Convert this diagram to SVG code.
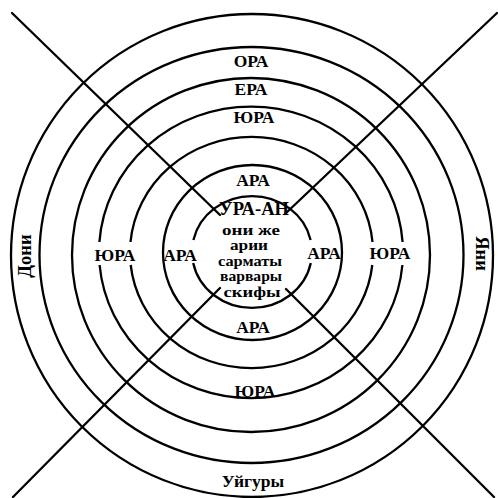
<svg xmlns="http://www.w3.org/2000/svg" width="498" height="498" viewBox="0 0 498 498">
<style>
  .ring { fill: none; stroke: #000; stroke-width: 2.3; }
  .ray { stroke: #000; stroke-width: 2.3; stroke-linecap: round; }
  .lbl { font-family: "Liberation Serif", "Times New Roman", serif; font-weight: bold; fill: #000; text-anchor: middle; }
  .big { font-size: 17.5px; }
  .mid { font-size: 18.5px; }
  .small { font-size: 14.5px; }
</style>
<rect width="498" height="498" fill="#fff"/>
<g id="rings">
  <ellipse id="ring1" class="ring" cx="252" cy="255.5" rx="241" ry="241.5"/>
  <ellipse id="ring2" class="ring" cx="251.5" cy="255" rx="212" ry="208"/>
  <ellipse id="ring3" class="ring" cx="251" cy="255" rx="179" ry="177"/>
  <path id="ring4" class="ring" d="M402.6 242 A152 146 0 0 0 99.4 242 M99.6 265 A152 146 0 0 0 402.4 265"/>
  <path id="ring5" class="ring" d="M372.5 242 A121.5 115.5 0 0 0 130.5 242 M130.7 265 A121.5 115.5 0 0 0 372.3 265"/>
  <ellipse id="ring6" class="ring" cx="252.5" cy="252.5" rx="89.5" ry="87.5"/>
  <path id="ring7" class="ring" d="M310.6 240 A60 56 0 0 0 193.4 240 M193.2 263 A60 56 0 0 0 310.8 263"/>
</g>
<g id="connectors">
  <line class="ray" x1="12" y1="13" x2="220" y2="215"/>
  <line class="ray" x1="497" y1="13" x2="285" y2="214"/>
  <line class="ray" x1="13" y1="497" x2="220" y2="288"/>
  <line class="ray" x1="494" y1="497" x2="286" y2="289"/>
</g>
<g id="labels">
  <g id="ora"><text class="lbl big" x="251" y="66.5">ОРА</text></g>
  <g id="era"><text class="lbl big" x="251" y="95">ЕРА</text></g>
  <g id="yura-top"><text class="lbl big" x="254" y="123">ЮРА</text></g>
  <g id="ara-top"><text class="lbl big" x="253" y="186">АРА</text></g>
  <g id="center">
    <text class="lbl mid" x="254" y="215">УРА-АН</text>
    <text class="lbl small" x="251" y="235" textLength="58" lengthAdjust="spacingAndGlyphs">они же</text>
    <text class="lbl small" x="249" y="250" textLength="38" lengthAdjust="spacingAndGlyphs">арии</text>
    <text class="lbl small" x="250" y="265.5" textLength="64" lengthAdjust="spacingAndGlyphs">сарматы</text>
    <text class="lbl small" x="251" y="281" textLength="62" lengthAdjust="spacingAndGlyphs">варвары</text>
    <text class="lbl small" x="252" y="296.5" textLength="57" lengthAdjust="spacingAndGlyphs">скифы</text>
  </g>
  <g id="yura-left"><text class="lbl big" x="115" y="261">ЮРА</text></g>
  <g id="ara-left"><text class="lbl big" x="180" y="261">АРА</text></g>
  <g id="ara-right"><text class="lbl big" x="324" y="259">АРА</text></g>
  <g id="yura-right"><text class="lbl big" x="390" y="259">ЮРА</text></g>
  <g id="ara-bottom"><text class="lbl big" x="253" y="333">АРА</text></g>
  <g id="yura-bottom"><text class="lbl big" x="255" y="397">ЮРА</text></g>
  <g id="uigury"><text class="lbl big" x="253" y="487">Уйгуры</text></g>
  <g id="doni"><text class="lbl mid" transform="translate(31 256) rotate(-90)">Дони</text></g>
  <g id="yani"><text class="lbl mid" transform="translate(476 253.5) rotate(90)">Яни</text></g>
</g>
</svg>
